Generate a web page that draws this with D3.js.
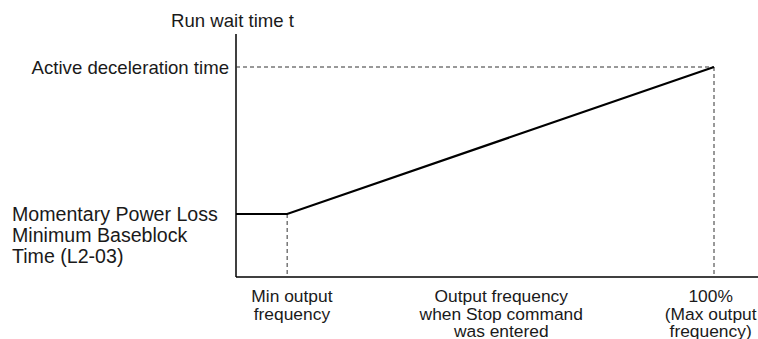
<!DOCTYPE html>
<html>
<head>
<meta charset="utf-8">
<script src="https://cdn.jsdelivr.net/npm/d3@7"></script>
<style>
  body { margin: 0; background: #fff; }
  text { font-family: "Liberation Sans", Arial, sans-serif; fill: #1a1a1a; }
</style>
</head>
<body>
<svg id="chart"></svg>
<script>
// output frequency (% of max) vs run wait time (% of active decel time)
const freqPct = [0, 10.7, 100];
const waitPct = [30, 30, 100];
const minFreq = 10.7;
const maxFreq = 100;
const decelLevel = 100;
const baseblockLevel = 30;

const yTitle = "Run wait time t";
const yLabelTop = ["Active deceleration time"];
const yLabelLow = ["Momentary Power Loss", "Minimum Baseblock", "Time (L2-03)"];
const xLabels = [
  { at: 11.7, lines: ["Min output", "frequency"] },
  { at: 55.5, lines: ["Output frequency", "when Stop command", "was entered"] },
  { at: 99.3, lines: ["100%", "(Max output", "frequency)"] }
];

const W = 758, H = 339;
const margin = { top: 34, right: 0, bottom: 62, left: 236 };

const svg = d3.select("#chart").attr("width", W).attr("height", H);

const x = d3.scaleLinear().domain([0, 100]).range([margin.left, 714]);
const y = d3.scaleLinear().domain([0, 100]).range([H - margin.bottom, 67]);
const y0 = y(0);

// axes (plain lines, no ticks)
svg.append("line")
  .attr("x1", x(0)).attr("x2", x(0))
  .attr("y1", margin.top).attr("y2", y0)
  .attr("stroke", "#000").attr("stroke-width", 1.5);
svg.append("line")
  .attr("x1", x(0)).attr("x2", W)
  .attr("y1", y0).attr("y2", y0)
  .attr("stroke", "#000").attr("stroke-width", 1.5);

// dashed guides
const dash = "4,3";
svg.append("line")
  .attr("x1", x(0)).attr("x2", x(maxFreq))
  .attr("y1", y(decelLevel)).attr("y2", y(decelLevel))
  .attr("stroke", "#333").attr("stroke-width", 1).attr("stroke-dasharray", dash);
svg.append("line")
  .attr("x1", x(maxFreq)).attr("x2", x(maxFreq))
  .attr("y1", y(decelLevel)).attr("y2", y0)
  .attr("stroke", "#333").attr("stroke-width", 1).attr("stroke-dasharray", dash);
svg.append("line")
  .attr("x1", x(minFreq)).attr("x2", x(minFreq))
  .attr("y1", y(baseblockLevel)).attr("y2", y0)
  .attr("stroke", "#333").attr("stroke-width", 1).attr("stroke-dasharray", dash);

// main curve
const pts = freqPct.map((f, i) => [f, waitPct[i]]);
svg.append("path")
  .datum(pts)
  .attr("fill", "none")
  .attr("stroke", "#000")
  .attr("stroke-width", 2.2)
  .attr("d", d3.line().x(d => x(d[0])).y(d => y(d[1])));

// y title
svg.append("text")
  .attr("x", 232.5).attr("y", 27)
  .attr("text-anchor", "middle")
  .style("font-size", "18.6px")
  .text(yTitle);

// y labels
svg.append("text")
  .attr("x", 229).attr("y", y(decelLevel) + 6.5)
  .attr("text-anchor", "end")
  .style("font-size", "18.6px")
  .text(yLabelTop[0]);

yLabelLow.forEach((t, i) => {
  svg.append("text")
    .attr("x", 12).attr("y", 220.5 + i * 21)
    .style("font-size", "19.6px")
    .text(t);
});

// x labels
xLabels.forEach(lb => {
  lb.lines.forEach((t, i) => {
    svg.append("text")
      .attr("x", x(lb.at)).attr("y", 302 + i * 17.5)
      .attr("text-anchor", "middle")
      .style("font-size", "17.4px")
      .text(t);
  });
});
</script>
</body>
</html>
